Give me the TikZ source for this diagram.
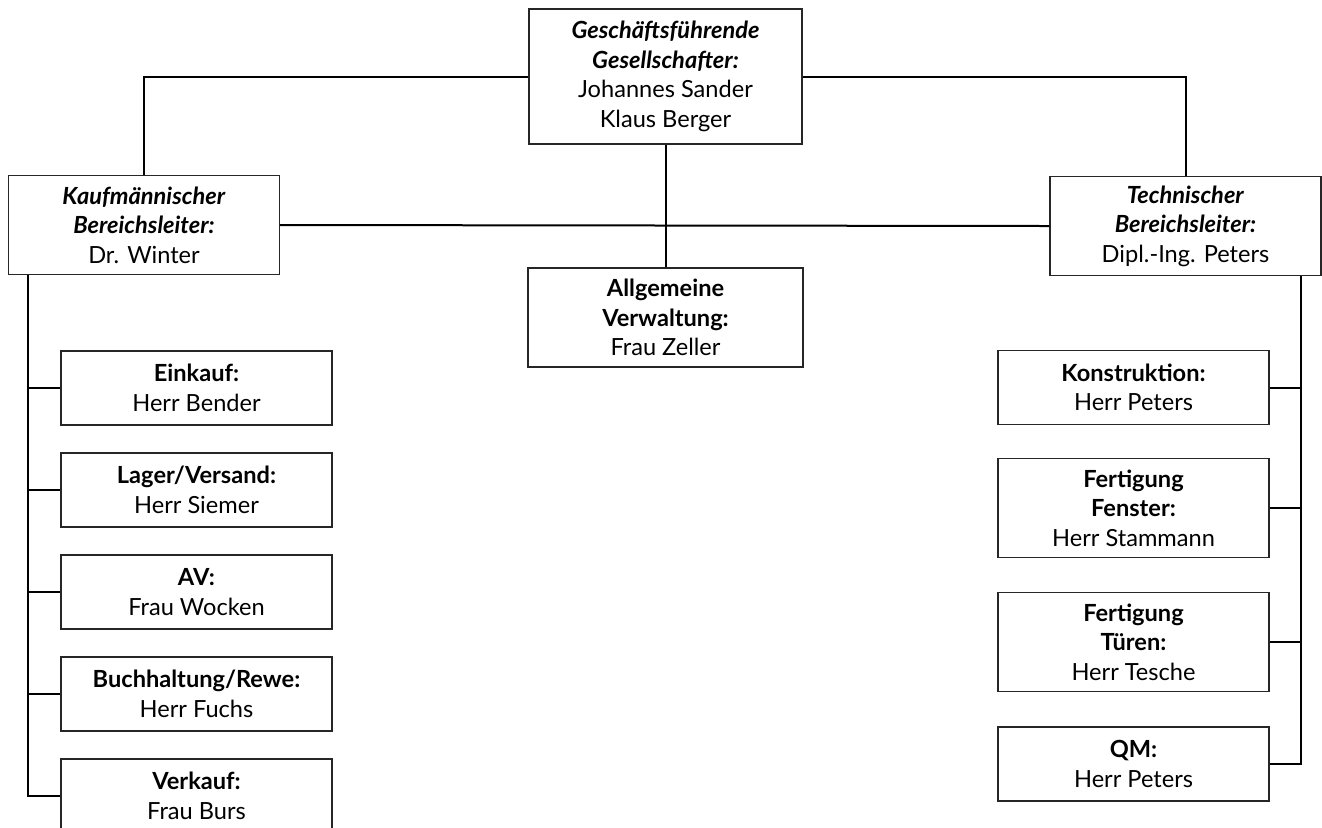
\documentclass[tikz,border=0pt]{standalone}
\usepackage{fontspec}
\setmainfont{Lato}
\usetikzlibrary{positioning,calc}

\begin{document}
\begin{tikzpicture}[x=0.5pt,y=-0.5pt,
				box/.style={rectangle, draw=black!85, line width=0.6pt, align=center, minimum width=135.5pt, minimum height=37pt, inner sep=2pt, font=\fontsize{11.8}{14.8}\selectfont},
				boxthree/.style={box, minimum height=49.5pt},
				head/.style={box, minimum width=136.5pt, minimum height=67.5pt},
				conn/.style={line width=1pt, black}
			]
			\useasboundingbox (0,0) rectangle (1322,827);
			\node[head] (gf) at (665.5,76.5) {\textbf{\textit{Geschäftsführende}}\\\textbf{\textit{Gesellschafter:}}\\Johannes Sander\\Klaus Berger};
			\node[boxthree] (kfm) at (144,225) {\textbf{\textit{Kaufmännischer}}\\\textbf{\textit{Bereichsleiter:}}\\Dr. Winter};
			\node[boxthree] (tech) at (1185.5,226) {\textbf{\textit{Technischer}}\\\textbf{\textit{Bereichsleiter:}}\\Dipl.-Ing. Peters};
			\node[boxthree, minimum width=137.5pt] (verw) at (665.5,317.5) {\textbf{Allgemeine}\\\textbf{Verwaltung:}\\Frau Zeller};
			% kaufmaennischer Bereich
			\node[box] (eink) at (196.5,388) {\textbf{Einkauf:}\\Herr Bender};
			\node[box] (lager) [below=13.4pt of eink] {\textbf{Lager/Versand:}\\Herr Siemer};
			\node[box] (av) [below=13.4pt of lager] {\textbf{AV:}\\Frau Wocken};
			\node[box] (buch) [below=13.4pt of av] {\textbf{Buchhaltung/Rewe:}\\Herr Fuchs};
			\node[box] (verk) [below=13.4pt of buch] {\textbf{Verkauf:}\\Frau Burs};
			% technischer Bereich
			\node[box] (konst) at (1133.5,387.5) {\textbf{Konstruktion:}\\Herr Peters};
			\node[boxthree] (fenst) [below=16.4pt of konst] {\textbf{Fertigung}\\\textbf{Fenster:}\\Herr Stammann};
			\node[boxthree] (tuer) [below=17pt of fenst] {\textbf{Fertigung}\\\textbf{Türen:}\\Herr Tesche};
			\node[box] (qm) [below=17pt of tuer] {\textbf{QM:}\\Herr Peters};
			\coordinate (lspine) at ($(kfm.south west)+(20,0)$);
			\coordinate (rspine) at ($(tech.south east)+(-21,0)$);
			\begin{scope}[conn]
			\draw (gf.west) -| (kfm.north);
			\draw (gf.east) -| (tech.north);
			\draw (gf.south) -- (verw.north);
			\draw (kfm.east) -- (tech.west);
			\foreach \n in {eink,lager,av,buch,verk}
				\draw (lspine) |- (\n.west);
			\foreach \n in {konst,fenst,tuer,qm}
				\draw (rspine) |- (\n.east);
			\end{scope}
			\end{tikzpicture}
\end{document}
